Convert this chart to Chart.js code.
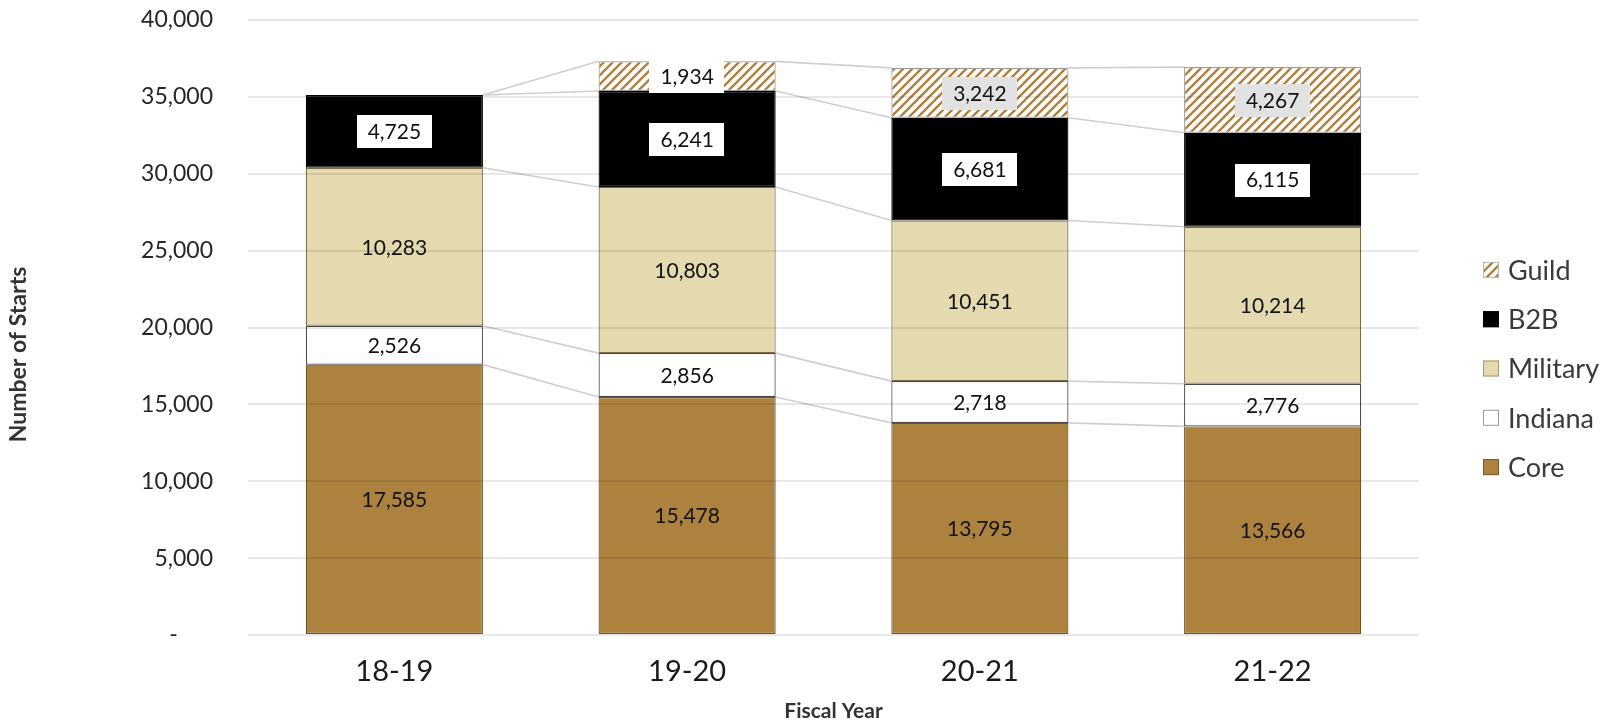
<!DOCTYPE html>
<html>
<head>
<meta charset="utf-8">
<script src="https://cdn.jsdelivr.net/npm/chart.js@4.4.1/dist/chart.umd.min.js"></script>
<style>
  html, body { margin: 0; padding: 0; background: #ffffff; }
  #wrap { width: 1608px; height: 725px; }
</style>
</head>
<body>
<div id="wrap"><canvas id="starts" width="1608" height="725"></canvas></div>
<script>
// Starts by fiscal year, split by enrollment channel
const fiscalYears = ['18-19', '19-20', '20-21', '21-22'];
const coreStarts = [17585, 15478, 13795, 13566];
const indianaStarts = [2526, 2856, 2718, 2776];
const militaryStarts = [10283, 10803, 10451, 10214];
const b2bStarts = [4725, 6241, 6681, 6115];
const guildStarts = [0, 1934, 3242, 4267];
const yTickStep = 5000;
const yMax = 40000;

const canvas = document.getElementById('starts');
const ctx = canvas.getContext('2d');

// Diagonal brown hatch used for the Guild segments
function makeHatch() {
  const s = 9;
  const c = document.createElement('canvas');
  c.width = s; c.height = s;
  const g = c.getContext('2d');
  g.fillStyle = '#ffffff';
  g.fillRect(0, 0, s, s);
  g.strokeStyle = '#b07f3a';
  g.lineWidth = 2.3;
  g.beginPath();
  g.moveTo(-1, s + 1); g.lineTo(s + 1, -1);
  g.moveTo(-s / 2 - 1, s / 2 + 1); g.lineTo(s / 2 + 1, -s / 2 - 1);
  g.moveTo(s / 2 - 1, s * 1.5 + 1); g.lineTo(s * 1.5 + 1, s / 2 - 1);
  g.stroke();
  return ctx.createPattern(c, 'repeat');
}
const guildHatch = makeHatch();

// Thin grey connectors between the tops of matching segments of neighbouring bars
const seriesLines = {
  id: 'seriesLines',
  beforeDatasetsDraw(chart) {
    const c = chart.ctx;
    c.save();
    c.strokeStyle = '#cfcfcf';
    c.lineWidth = 1.6;
    chart.data.datasets.forEach((ds, di) => {
      const bars = chart.getDatasetMeta(di).data;
      for (let i = 0; i < bars.length - 1; i++) {
        const a = bars[i].getProps(['x', 'y', 'width'], true);
        const b = bars[i + 1].getProps(['x', 'y', 'width'], true);
        c.beginPath();
        c.moveTo(a.x + a.width / 2, a.y);
        c.lineTo(b.x - b.width / 2, b.y);
        c.stroke();
      }
    });
    c.restore();
  }
};

// Value labels centred in each segment, some on a small plate
const segmentLabels = {
  id: 'segmentLabels',
  afterDraw(chart) {
    const c = chart.ctx;
    c.save();
    c.font = '21px Lato';
    c.textAlign = 'center';
    c.textBaseline = 'middle';
    chart.data.datasets.forEach((ds, di) => {
      const bars = chart.getDatasetMeta(di).data;
      bars.forEach((bar, i) => {
        const v = ds.data[i];
        if (!v) return;
        const p = bar.getProps(['x', 'y', 'base'], true);
        const cy = (p.y + p.base) / 2;
        const txt = v.toLocaleString('en-US');
        const w = c.measureText(txt).width;
        if (ds.labelPlate) {
          c.fillStyle = ds.labelPlate[i];
          c.fillRect(Math.round(p.x - w / 2 - 11), Math.round(cy - 16), Math.round(w + 22), 33);
        }
        c.fillStyle = '#111111';
        c.fillText(txt, p.x, cy + 1);
      });
    });
    c.restore();
  }
};

// Legend on the right, listed top-down in stacking order
const sideLegend = {
  id: 'sideLegend',
  afterDraw(chart) {
    const c = chart.ctx;
    const area = chart.chartArea;
    const x = area.right + 64;
    const step = 49.3;
    const midY = (area.top + area.bottom) / 2 + 41;
    const order = chart.data.datasets.map((d, i) => i).reverse();
    c.save();
    c.font = '27px Lato';
    c.textAlign = 'left';
    c.textBaseline = 'middle';
    order.forEach((di, k) => {
      const ds = chart.data.datasets[di];
      const y = midY + (k - (order.length - 1) / 2) * step;
      c.fillStyle = ds.backgroundColor;
      c.fillRect(x, y - 8, 16, 16);
      c.strokeStyle = ds.legendEdge;
      c.lineWidth = 1;
      c.strokeRect(x + 0.5, y - 7.5, 15, 15);
      c.fillStyle = '#3a3a3a';
      c.fillText(ds.label, x + 25, y + 1);
    });
    c.restore();
  }
};

// Vertical axis title, centred on the full canvas height
const yTitle = {
  id: 'yTitle',
  afterDraw(chart) {
    const c = chart.ctx;
    c.save();
    c.translate(19, chart.height / 2 - 8);
    c.rotate(-Math.PI / 2);
    c.font = 'bold 23px Lato';
    c.fillStyle = '#333333';
    c.textAlign = 'center';
    c.textBaseline = 'middle';
    c.fillText('Number of Starts', 0, 0);
    c.restore();
  }
};

new Chart(ctx, {
  type: 'bar',
  data: {
    labels: fiscalYears,
    datasets: [
      { label: 'Core', data: coreStarts, backgroundColor: '#ad823f', borderColor: '#6e5228', legendEdge: '#7a5a2a' },
      { label: 'Indiana', data: indianaStarts, backgroundColor: '#ffffff', borderColor: '#4a4a4a', legendEdge: '#9a9a9a' },
      { label: 'Military', data: militaryStarts, backgroundColor: '#e5d9b0', borderColor: '#7c6d4a', legendEdge: '#a89a70' },
      { label: 'B2B', data: b2bStarts, backgroundColor: '#000000', borderColor: '#000000', legendEdge: '#000000',
        labelPlate: ['#ffffff', '#ffffff', '#ffffff', '#ffffff'] },
      { label: 'Guild', data: guildStarts, backgroundColor: guildHatch, borderColor: '#9a9a9a', legendEdge: '#b8b8b8',
        labelPlate: ['#ffffff', '#ffffff', '#e2e2e2', '#e2e2e2'],
        borderWidth: (c) => (c.raw ? 1.2 : 0) }
    ]
  },
  options: {
    responsive: false,
    animation: false,
    devicePixelRatio: 1,
    layout: { padding: { left: 0, right: 189, top: 20, bottom: 0 } },
    datasets: {
      bar: { categoryPercentage: 1, barPercentage: 0.605, borderWidth: 1.2, borderSkipped: false }
    },
    plugins: {
      legend: { display: false },
      tooltip: { enabled: false }
    },
    scales: {
      x: {
        stacked: true,
        grid: { display: false, drawTicks: false },
        border: { display: false },
        ticks: { font: { family: 'Lato', size: 29 }, color: '#1a1a1a', padding: 19 },
        title: {
          display: true, text: 'Fiscal Year', color: '#333333',
          font: { family: 'Lato', size: 21, weight: 'bold' },
          padding: { top: 0, bottom: 1 }
        },
        afterFit(s) { s.height = 90; s.paddingLeft = 0; s.paddingRight = 0; }
      },
      y: {
        stacked: true,
        min: 0,
        max: yMax,
        grid: { color: 'rgba(0,0,0,0.09)', lineWidth: 2, drawTicks: false, z: 1 },
        border: { display: false },
        ticks: {
          stepSize: yTickStep,
          padding: 35,
          color: '#262626',
          font: { family: 'Lato', size: 23 },
          callback: (v) => (v === 0 ? '-      ' : Number(v).toLocaleString('en-US'))
        },
        title: { display: false },
        afterFit(s) { s.width = 248; s.paddingTop = 0; s.paddingBottom = 0; }
      }
    }
  },
  plugins: [seriesLines, segmentLabels, sideLegend, yTitle]
});
</script>
</body>
</html>
